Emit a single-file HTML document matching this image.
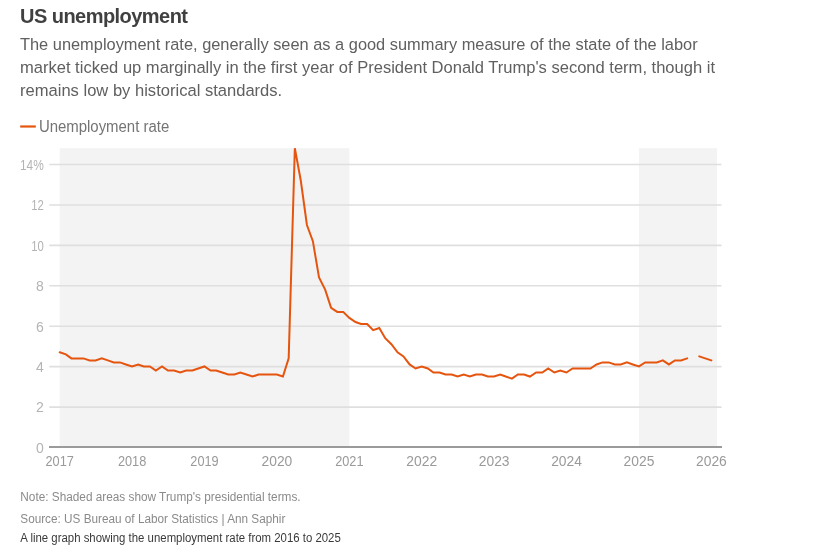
<!DOCTYPE html>
<html><head><meta charset="utf-8"><style>
html,body{margin:0;padding:0;background:#fff;width:834px;height:555px;overflow:hidden}
svg{position:absolute;left:0;top:0;display:block}
.gs{will-change:transform}
text{font-family:"Liberation Sans",sans-serif}
.t{font-size:20px;font-weight:bold;fill:#404040}
.s{font-size:16.8px;fill:#606060}
.lg{font-size:16px;fill:#747474}
.g{stroke:#dfdfdf;stroke-width:1.6}
.yl{font-size:14px;fill:#b4b4b4;text-anchor:end}
.xl{font-size:14px;fill:#9a9a9a;text-anchor:middle}
.n{font-size:12.5px;fill:#8a8a8a}
.a{font-size:12px;fill:#3a3a3a}
</style></head><body>
<svg class="gs" width="834" height="555" viewBox="0 0 834 555">
<text x="20" y="23.3" class="t" textLength="168" lengthAdjust="spacing">US unemployment</text>
<text x="20" y="49.6" class="s" textLength="677.6" lengthAdjust="spacingAndGlyphs">The unemployment rate, generally seen as a good summary measure of the state of the labor</text>
<text x="20" y="72.7" class="s" textLength="695" lengthAdjust="spacingAndGlyphs">market ticked up marginally in the first year of President Donald Trump's second term, though it</text>
<text x="20" y="95.5" class="s" textLength="262.2" lengthAdjust="spacingAndGlyphs">remains low by historical standards.</text>
<line x1="20.2" x2="35.8" y1="126.5" y2="126.5" stroke="#e5550f" stroke-width="2.2"/>
<text x="38.9" y="132.1" class="lg" textLength="130.3" lengthAdjust="spacingAndGlyphs">Unemployment rate</text>
<rect x="59.7" y="148.2" width="289.65" height="299.1" fill="#f3f3f3"/>
<rect x="639" y="148.2" width="78" height="299.1" fill="#f3f3f3"/>
<line x1="49.3" x2="721.5" y1="407.08" y2="407.08" class="g"/>
<line x1="49.3" x2="721.5" y1="366.66" y2="366.66" class="g"/>
<line x1="49.3" x2="721.5" y1="326.24" y2="326.24" class="g"/>
<line x1="49.3" x2="721.5" y1="285.82" y2="285.82" class="g"/>
<line x1="49.3" x2="721.5" y1="245.40" y2="245.40" class="g"/>
<line x1="49.3" x2="721.5" y1="204.98" y2="204.98" class="g"/>
<line x1="49.3" x2="721.5" y1="164.56" y2="164.56" class="g"/>

<line x1="49" x2="722" y1="447.1" y2="447.1" stroke="#9a9a9a" stroke-width="2"/>
<text x="43.8" y="452.90" class="yl">0</text>
<text x="43.8" y="412.48" class="yl">2</text>
<text x="43.8" y="372.06" class="yl">4</text>
<text x="43.8" y="331.64" class="yl">6</text>
<text x="43.8" y="291.22" class="yl">8</text>
<text x="43.8" y="250.80" class="yl" textLength="12.6" lengthAdjust="spacingAndGlyphs">10</text>
<text x="43.8" y="210.38" class="yl" textLength="12.6" lengthAdjust="spacingAndGlyphs">12</text>
<text x="43.8" y="169.96" class="yl" textLength="23.8" lengthAdjust="spacingAndGlyphs">14%</text>

<text x="59.70" y="466" class="xl" textLength="28.4" lengthAdjust="spacingAndGlyphs">2017</text>
<text x="132.11" y="466" class="xl" textLength="28.4" lengthAdjust="spacingAndGlyphs">2018</text>
<text x="204.52" y="466" class="xl" textLength="28.4" lengthAdjust="spacingAndGlyphs">2019</text>
<text x="276.93" y="466" class="xl" textLength="30.8" lengthAdjust="spacingAndGlyphs">2020</text>
<text x="349.34" y="466" class="xl" textLength="28.4" lengthAdjust="spacingAndGlyphs">2021</text>
<text x="421.75" y="466" class="xl" textLength="30.8" lengthAdjust="spacingAndGlyphs">2022</text>
<text x="494.16" y="466" class="xl" textLength="30.8" lengthAdjust="spacingAndGlyphs">2023</text>
<text x="566.57" y="466" class="xl" textLength="30.8" lengthAdjust="spacingAndGlyphs">2024</text>
<text x="638.98" y="466" class="xl" textLength="30.8" lengthAdjust="spacingAndGlyphs">2025</text>
<text x="711.39" y="466" class="xl" textLength="30.8" lengthAdjust="spacingAndGlyphs">2026</text>

<path d="M59.70,352.31 L65.85,354.33 L71.40,358.38 L77.54,358.38 L83.49,358.38 L89.64,360.40 L95.58,360.40 L101.73,358.38 L107.88,360.40 L113.82,362.42 L119.97,362.42 L125.92,364.44 L132.06,366.46 L138.21,364.44 L143.76,366.46 L149.91,366.46 L155.85,370.50 L162.00,366.46 L167.95,370.50 L174.09,370.50 L180.24,372.52 L186.19,370.50 L192.33,370.50 L198.28,368.48 L204.43,366.46 L210.57,370.50 L216.12,370.50 L222.27,372.52 L228.22,374.54 L234.36,374.54 L240.31,372.52 L246.46,374.54 L252.60,376.56 L258.55,374.54 L264.70,374.54 L270.64,374.54 L276.79,374.54 L282.93,376.56 L288.68,358.38 L294.83,148.19 L300.78,180.53 L306.92,224.99 L312.87,241.16 L319.02,277.54 L325.16,289.66 L331.11,307.85 L337.26,311.89 L343.20,311.89 L349.35,317.96 L355.50,322.00 L361.05,324.02 L367.19,324.02 L373.14,330.08 L379.29,328.06 L385.23,338.17 L391.38,344.23 L397.53,352.31 L403.47,356.36 L409.62,364.44 L415.57,368.48 L421.71,366.46 L427.86,368.48 L433.41,372.52 L439.56,372.52 L445.50,374.54 L451.65,374.54 L457.60,376.56 L463.74,374.54 L469.89,376.56 L475.84,374.54 L481.98,374.54 L487.93,376.56 L494.08,376.56 L500.22,374.54 L505.77,376.56 L511.92,378.59 L517.87,374.54 L524.01,374.54 L529.96,376.56 L536.11,372.52 L542.25,372.52 L548.20,368.48 L554.35,372.52 L560.29,370.50 L566.44,372.52 L572.58,368.48 L578.33,368.48 L584.48,368.48 L590.43,368.48 L596.57,364.44 L602.52,362.42 L608.67,362.42 L614.81,364.44 L620.76,364.44 L626.91,362.42 L632.85,364.44 L639.00,366.46 L645.15,362.42 L650.70,362.42 L656.84,362.42 L662.79,360.40 L668.94,364.44 L674.88,360.40 L681.03,360.40 L687.18,358.38 M699.27,356.36 L705.22,358.38 L711.36,360.40" fill="none" stroke="#e5550f" stroke-width="2" stroke-linejoin="miter" stroke-linecap="round"/>
<text x="20.3" y="501.1" class="n" textLength="280.3" lengthAdjust="spacingAndGlyphs">Note: Shaded areas show Trump's presidential terms.</text>
<text x="20.3" y="523.3" class="n" textLength="265" lengthAdjust="spacingAndGlyphs">Source: US Bureau of Labor Statistics | Ann Saphir</text>
</svg>
<svg width="834" height="555" viewBox="0 0 834 555">
<text x="20.3" y="542" class="a" textLength="320.5" lengthAdjust="spacingAndGlyphs">A line graph showing the unemployment rate from 2016 to 2025</text>
</svg>
</body></html>
